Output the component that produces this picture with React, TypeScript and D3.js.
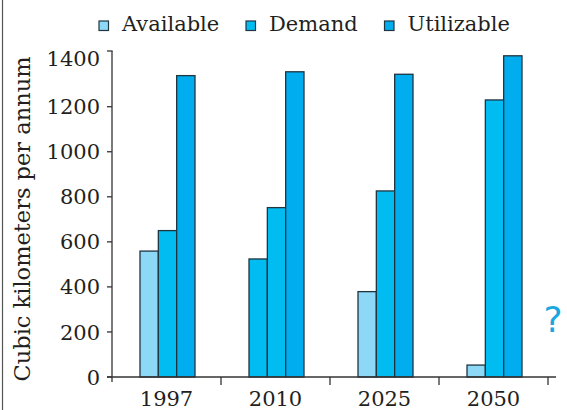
import React, { useEffect, useRef } from "react";
import * as d3 from "d3";

const categories = ["1997", "2010", "2025", "2050"];
const seriesNames = ["Available", "Demand", "Utilizable"];
const available = [559, 524, 379, 53];
const demand = [650, 752, 826, 1230];
const utilizable = [1338, 1355, 1344, 1426];
const yTicks = [0, 200, 400, 600, 800, 1000, 1200, 1400];
const seriesColors = ["#8dd7f7", "#00bcf1", "#00aeef"];
// the 2010 first bar is drawn in the demand colour in the reference
const availableColorOverride: Record<string, string> = { "2010": "#00bcf1" };

const W = 567;
const H = 410;
const FONT = "'DejaVu Serif', serif";
const INK = "#231f20";

export default function App() {
  const ref = useRef<SVGSVGElement | null>(null);

  useEffect(() => {
    const svg = d3.select(ref.current);
    svg.selectAll("*").remove();

    const x0 = 112, x1 = 548, yBase = 377, yTop = 51;
    const x = d3.scaleBand<string>().domain(categories).range([x0, x1]).paddingInner(0).paddingOuter(0);
    const y = d3.scaleLinear().domain([0, 1200]).range([yBase, 106.7]);
    const yMax = y.invert(yTop);
    const inner = d3.scaleBand<string>().domain(seriesNames).range([0, 55]).padding(0);

    const seriesValues = [available, demand, utilizable];

    // frame line on the left
    svg.append("line").attr("x1", 2.5).attr("x2", 2.5).attr("y1", 0).attr("y2", H)
      .attr("stroke", "#555").attr("stroke-width", 1.2);

    // bars
    const g = svg.append("g");
    categories.forEach((c, ci) => {
      const gx = (x(c) as number) + x.bandwidth() / 2 - 55 / 2 + 1;
      seriesNames.forEach((s, si) => {
        const v = seriesValues[si][ci];
        let fill = seriesColors[si];
        if (si === 0 && availableColorOverride[c]) fill = availableColorOverride[c];
        g.append("rect")
          .attr("x", gx + (inner(s) as number))
          .attr("y", y(v))
          .attr("width", inner.bandwidth())
          .attr("height", yBase - y(v))
          .attr("fill", fill)
          .attr("stroke", "#1f3540")
          .attr("stroke-width", 1.3);
      });
    });

    // y axis
    const yAxis = svg.append("g");
    yAxis.append("line").attr("x1", x0).attr("x2", x0).attr("y1", y(yMax)).attr("y2", yBase + 5)
      .attr("stroke", "#333").attr("stroke-width", 1.3);
    yAxis.append("line").attr("x1", x0 - 5).attr("x2", x0 + 0.6).attr("y1", y(yMax)).attr("y2", y(yMax))
      .attr("stroke", "#333").attr("stroke-width", 1.3);
    yTicks.forEach((t) => {
      if (t !== 1400) {
        yAxis.append("line").attr("x1", x0 - 5).attr("x2", x0).attr("y1", y(t)).attr("y2", y(t))
          .attr("stroke", "#333").attr("stroke-width", 1.3);
      }
      yAxis.append("text").attr("x", 100).attr("y", t === 1400 ? y(t) - 3 : y(t))
        .attr("dy", "0.36em").attr("text-anchor", "end")
        .attr("font-family", FONT).attr("font-size", 21).attr("fill", INK)
        .text(String(t));
    });

    // x axis
    const xAxis = svg.append("g");
    xAxis.append("line").attr("x1", x0 - 5).attr("x2", 556).attr("y1", yBase).attr("y2", yBase)
      .attr("stroke", "#333").attr("stroke-width", 1.3);
    const bounds = categories.map((c) => x(c) as number).concat([x1]);
    bounds.slice(1).forEach((b) => {
      xAxis.append("line").attr("x1", b).attr("x2", b).attr("y1", yBase).attr("y2", yBase + 8)
        .attr("stroke", "#333").attr("stroke-width", 1.3);
    });
    categories.forEach((c) => {
      xAxis.append("text").attr("x", (x(c) as number) + x.bandwidth() / 2).attr("y", 406)
        .attr("text-anchor", "middle").attr("font-family", FONT).attr("font-size", 21)
        .attr("fill", INK).text(c);
    });

    // y title
    svg.append("text")
      .attr("transform", `translate(29.5,219) rotate(-90)`)
      .attr("text-anchor", "middle").attr("font-family", FONT).attr("font-size", 22.5)
      .attr("fill", INK).text("Cubic kilometers per annum");

    // legend
    const legendX = [99, 246, 384.5];
    const leg = svg.append("g");
    seriesNames.forEach((s, i) => {
      leg.append("rect").attr("x", legendX[i]).attr("y", 21).attr("width", 9.5).attr("height", 9.5)
        .attr("fill", seriesColors[i]).attr("stroke", "#1f3540").attr("stroke-width", 1.2);
      leg.append("text").attr("x", legendX[i] + 23).attr("y", 30.7)
        .attr("font-family", FONT).attr("font-size", 21).attr("fill", INK).text(s);
    });

    // question mark
    svg.append("text").attr("x", 553).attr("y", 331.5).attr("text-anchor", "middle")
      .attr("font-family", "'DejaVu Sans', sans-serif").attr("font-size", 36)
      .attr("fill", "#1aa7e0").text("?");
  }, []);

  return (
    <svg
      ref={ref}
      width={W}
      height={H}
      style={{ position: "absolute", left: 0, top: 0, background: "#fff" }}
    />
  );
}
